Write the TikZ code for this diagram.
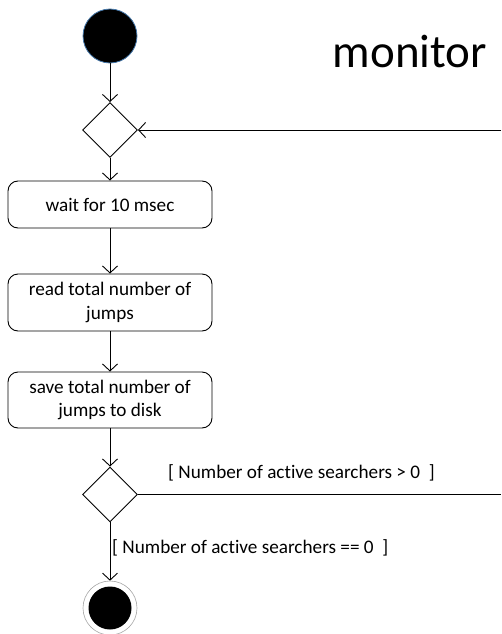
\documentclass[tikz,border=0pt]{standalone}
\usepackage{fontspec}
\setmainfont{Carlito}[Ligatures=NoCommon]
\usetikzlibrary{arrows.meta,shapes.geometric}
\begin{document}
\begin{tikzpicture}[x=1pt,y=-1pt,
  flow/.style={draw=black,line width=0.9pt,-{Straight Barb[length=7pt,width=15pt,line width=0.9pt]}},
  plain/.style={draw=black,line width=0.9pt},
  actbox/.style={draw=black,line width=0.9pt,rounded corners=10pt,minimum width=204pt,inner sep=0pt,align=center,font=\fontsize{19.2}{23.5}\selectfont},
  decision/.style={draw=black,line width=0.9pt,diamond,minimum width=55pt,minimum height=55pt,inner sep=0pt},
  guard/.style={font=\fontsize{19.2}{22}\selectfont,inner sep=0pt,anchor=base west}
]
\useasboundingbox (0,0) rectangle (501,634);
\node[circle,fill=black,draw={rgb,255:red,70;green,120;blue,170},line width=0.8pt,minimum size=54pt,inner sep=0pt] (start) at (110,36) {};
\node[font=\fontsize{47}{50}\selectfont,anchor=base,inner sep=0pt] (title) at (410,67) {monitor};
\node[decision] (d1) at (110,130) {};
\coordinate (loopin) at (501,130);
\node[actbox,minimum height=47pt] (b1) at (110,204.5) {wait for 10 msec};
\node[actbox,minimum height=57pt] (b2) at (110,302.5) {read total number of\\jumps};
\node[actbox,minimum height=56pt] (b3) at (110,400) {save total number of\\jumps to disk};
\node[decision] (d2) at (110,494.5) {};
\coordinate (loopout) at (501,494.5);
\node[circle,draw=gray!70,line width=0.6pt,minimum size=54pt,inner sep=0pt] (endo) at (110,608) {};
\node[circle,fill=black,minimum size=43pt,inner sep=0pt] (endi) at (110,608) {};
\draw[flow] (start) -- (d1.north);
\draw[flow] (loopin) -- (d1.east);
\draw[flow] (d1.south) -- (b1.north);
\draw[flow] (b1.south) -- (b2.north);
\draw[flow] (b2.south) -- (b3.north);
\draw[flow] (b3.south) -- (d2.north);
\draw[plain] (d2.east) -- (loopout);
\draw[flow] (d2.south) -- (endo.north);
\node[guard] (g1) at (168,478) {[ Number of active searchers > 0 \ ]};
\node[guard] (g2) at (112,553) {[ Number of active searchers == 0 \ ]};
\end{tikzpicture}
\end{document}
